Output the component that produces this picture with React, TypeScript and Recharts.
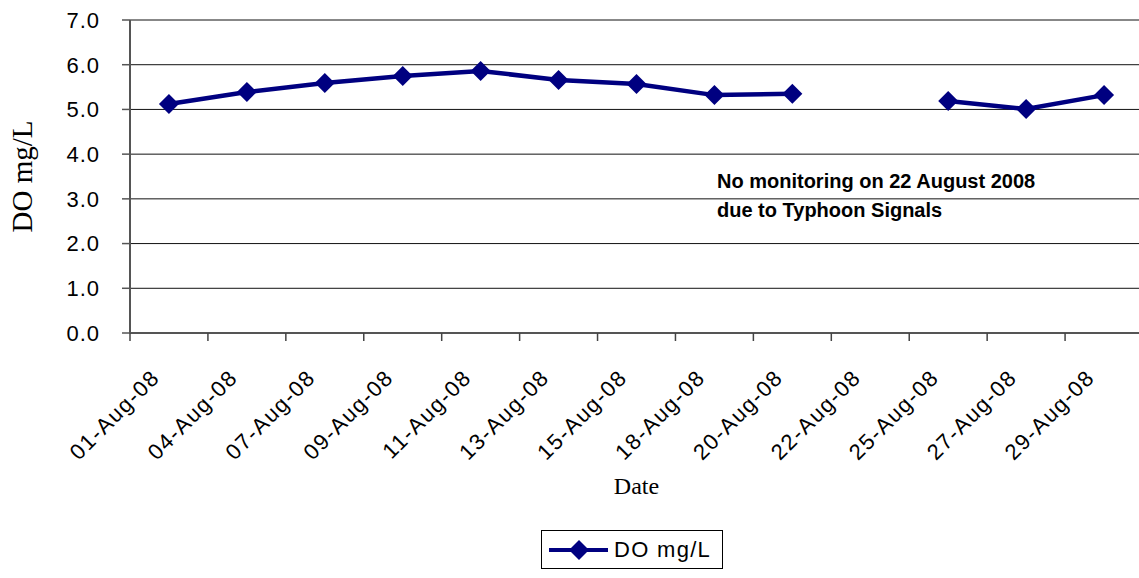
import { CartesianGrid, Line, LineChart, XAxis, YAxis } from "recharts";

const dates = [
  "01-Aug-08",
  "04-Aug-08",
  "07-Aug-08",
  "09-Aug-08",
  "11-Aug-08",
  "13-Aug-08",
  "15-Aug-08",
  "18-Aug-08",
  "20-Aug-08",
  "22-Aug-08",
  "25-Aug-08",
  "27-Aug-08",
  "29-Aug-08",
];
// 22 Aug: no monitoring (typhoon signals)
const doValues: Array<number | null> = [
  5.12, 5.39, 5.59, 5.75, 5.86, 5.66, 5.57, 5.32, 5.35, null, 5.19, 5.01, 5.32,
];
const yTicks = [0, 1, 2, 3, 4, 5, 6, 7];

const rows = dates.map((date, i) => ({ date, value: doValues[i] }));

const NAVY = "#000080";
const FONT = "'Liberation Sans', Arial, sans-serif";
const SERIF = "'Liberation Serif', 'Times New Roman', serif";

const CHART_W = 1160;
const MARGIN = { top: 20, right: 17, left: 0, bottom: 115 };
const Y_W = 130;
const HALF_BAND = (CHART_W - MARGIN.left - MARGIN.right - Y_W) / dates.length / 2;

function Diamond(props: any) {
  const { cx, cy, value } = props;
  if (value == null || cx == null || cy == null) return null;
  const r = 10;
  return (
    <polygon
      points={`${cx},${cy - r} ${cx + r},${cy} ${cx},${cy + r} ${cx - r},${cy}`}
      fill={NAVY}
    />
  );
}

function DateTick(props: any) {
  const { x, y, payload } = props;
  const axisY = y - 8;
  const tx = x - 8;
  const ty = y + 38;
  return (
    <g>
      <line x1={x - HALF_BAND} y1={axisY} x2={x - HALF_BAND} y2={axisY + 8} stroke="#444" strokeWidth={1.5} />
      <text
        x={tx}
        y={ty}
        transform={`rotate(-45, ${tx}, ${ty})`}
        textAnchor="end"
        fill="#000"
        fontSize={22}
        letterSpacing={1.5}
        fontFamily={FONT}
      >
        {payload.value}
      </text>
    </g>
  );
}

export default function App() {
  return (
    <div
      style={{
        position: "absolute",
        left: 0,
        top: 0,
        width: 1139,
        height: 578,
        overflow: "hidden",
        background: "#fff",
      }}
    >
      <LineChart width={CHART_W} height={578} data={rows} margin={MARGIN}>
        <CartesianGrid vertical={false} stroke="#111" strokeWidth={1} />
        <XAxis
          dataKey="date"
          scale="band"
          interval={0}
          height={130}
          tickSize={8}
          tickMargin={0}
          tickLine={false}
          axisLine={{ stroke: "#555", strokeWidth: 2 }}
          tick={<DateTick />}
          label={{
            value: "Date",
            position: "bottom",
            offset: 14,
            style: { fontFamily: SERIF, fontSize: 24, fill: "#000" },
          }}
        />
        <YAxis
          width={Y_W}
          domain={[0, 7]}
          ticks={yTicks}
          interval={0}
          tickSize={8}
          tickMargin={22}
          tickFormatter={(v: number) => v.toFixed(1)}
          tick={{ fill: "#000", fontSize: 22, fontFamily: FONT, letterSpacing: 1 }}
          tickLine={{ stroke: "#555", strokeWidth: 1.5 }}
          axisLine={{ stroke: "#555", strokeWidth: 2 }}
          label={{
            value: "DO mg/L",
            angle: -90,
            position: "insideLeft",
            offset: 22,
            style: { textAnchor: "middle", fontFamily: SERIF, fontSize: 29, fill: "#000" },
          }}
        />
        <Line
          type="linear"
          dataKey="value"
          stroke={NAVY}
          strokeWidth={4.5}
          dot={<Diamond />}
          activeDot={false}
          connectNulls={false}
          isAnimationActive={false}
        />
      </LineChart>

      <div
        style={{
          position: "absolute",
          left: 717,
          top: 167,
          fontFamily: FONT,
          fontWeight: "bold",
          fontSize: 20,
          lineHeight: "29px",
          color: "#000",
          whiteSpace: "nowrap",
        }}
      >
        No monitoring on 22 August 2008
        <br />
        due to Typhoon Signals
      </div>

      <div
        style={{
          position: "absolute",
          left: 541,
          top: 530,
          width: 180,
          height: 37,
          border: "1px solid #000",
          display: "flex",
          alignItems: "center",
          fontFamily: FONT,
          fontSize: 22,
          letterSpacing: 1.3,
          color: "#000",
        }}
      >
        <svg width={66} height={24} style={{ marginLeft: 6 }}>
          <line x1={1} y1={12} x2={60} y2={12} stroke={NAVY} strokeWidth={4} />
          <polygon points="31,2 41,12 31,22 21,12" fill={NAVY} />
        </svg>
        <span>DO mg/L</span>
      </div>
    </div>
  );
}
